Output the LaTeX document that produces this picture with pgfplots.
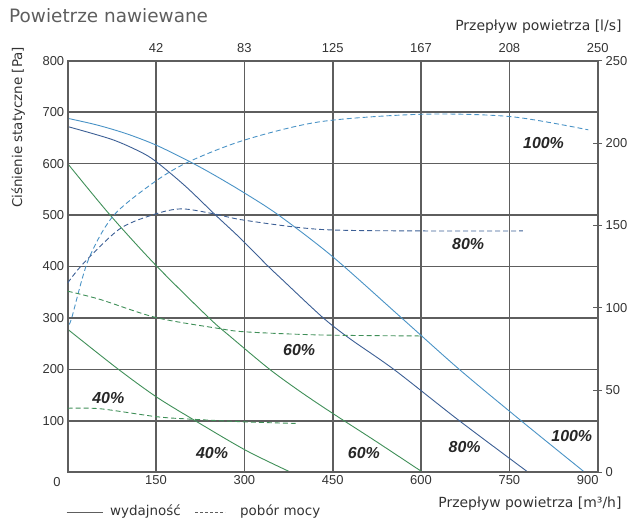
\documentclass[border=0pt]{standalone}
\usepackage{pgfplots}
\pgfplotsset{compat=1.18}
\usepackage{fontspec}
\setmainfont{DejaVu Sans}
\newfontfamily\lib{Liberation Sans}
\definecolor{gridc}{HTML}{5E5E5E}
\definecolor{cA}{HTML}{4A93C6}
\definecolor{cB}{HTML}{3C5F95}
\definecolor{cG}{HTML}{3F8F58}
\definecolor{txt}{HTML}{333333}
\begin{document}
\begin{tikzpicture}
\path[use as bounding box] (-67.7bp,-46.7bp) rectangle (559.3bp,472.3bp);
\begin{axis}[at={(0,0)}, anchor=south west, scale only axis,
  width=530bp, height=411.6bp,
  xmin=0, xmax=900, ymin=0, ymax=800,
  xtick={150,300,...,750}, ytick={100,200,...,800},
  extra x ticks={900}, extra x tick style={xticklabel style={xshift=-10bp}},
  grid=major, grid style={gridc, line width=1.7bp},
  axis line style={gridc, line width=1.7bp},
  major tick length=0pt,
  tick label style={font=\lib\fontsize{13}{13}\selectfont, text=txt},
  /pgf/number format/assume math mode=true,
  every axis plot/.append style={line width=0.9bp, smooth},
]
\addplot[cA] coordinates {(0,688)(50,675)(100,658)(150,636)(207,604)(250,577)(300,543)(358,500)(450,419)(567,300)(665,200)(768,102)(878,0)};
\addplot[cB] coordinates {(0,672)(75,647)(123,623)(150,604)(200,556)(251,500)(293,455)(339,402)(362,377)(433,301)(480,259)(555,199)(663,102)(782,0)};
\addplot[cG] coordinates {(0,600)(72,500)(150,402)(240,300)(276,264)(342,201)(396,156)(452,113)(521,62)(603,0)};
\addplot[cG] coordinates {(0,278)(84,202)(150,147)(214,102)(302,43)(379,0)};
\begin{scope}[font=\lib\bfseries\itshape\fontsize{16}{16}\selectfont, text=black!85]
\node at (axis cs:808,640) {100\%};
\node at (axis cs:680,444) {80\%};
\node at (axis cs:393,238) {60\%};
\node at (axis cs:69,144) {40\%};
\node at (axis cs:245,37) {40\%};
\node at (axis cs:503,38) {60\%};
\node at (axis cs:674,50) {80\%};
\node at (axis cs:856,71) {100\%};
\end{scope}
\end{axis}
\begin{axis}[at={(0,0)}, anchor=south west, scale only axis,
  width=530bp, height=411.6bp,
  xmin=0, xmax=900, ymin=0, ymax=250,
  xtick={150,300,...,900}, xticklabels={42,83,125,167,208,250},
  ytick={0,50,...,250},
  xtick pos=right, xticklabel pos=right,
  ytick pos=right, yticklabel pos=right,
  x tick style={draw=none},
  y tick style={gridc, line width=0.8bp},
  tick align=center, major tick length=9bp,
  axis line style={gridc, line width=1.7bp},
  tick label style={font=\lib\fontsize{13}{13}\selectfont, text=txt},
  /pgf/number format/assume math mode=true,
  every axis plot/.append style={line width=0.9bp, smooth, dash pattern=on 5bp off 3bp},
]
\addplot[cA] coordinates {(2,90)(7,94)(35,129)(78,156)(150,177)(208,189)(302,202)(430,213)(603,217.5)(753,216)(884,208)};
\addplot[cB] coordinates {(0,115)(27,127)(89,148)(150,157)(194,160)(248,157)(302,153)(430,147.5)(603,146.6)(773,146.6)};
\addplot[cG] coordinates {(0,110)(55,105)(150,94)(254,87.5)(302,85.3)(430,83.4)(603,82.8)};
\addplot[cG] coordinates {(0,38.9)(55,38.6)(150,33.8)(203,32.4)(302,30.6)(387,29.7)};
\end{axis}
\node[anchor=west, text=gridc, font=\fontsize{18.5}{18.5}\selectfont] at (-62bp,456.3bp) {Powietrze nawiewane};
\node[anchor=east, text=txt, font=\fontsize{14}{14}\selectfont] at (557.3bp,445.6bp) {Przepływ powietrza [l/s]};
\node[anchor=east, text=txt, font=\fontsize{14}{14}\selectfont] at (557.3bp,-31bp) {Przepływ powietrza [m³/h]};
\node[rotate=90, text=txt, font=\fontsize{13.5}{13.5}\selectfont] at (-49.5bp,345bp) {Ciśnienie statyczne [Pa]};
\node[text=txt, font=\lib\fontsize{13}{13}\selectfont] at (-10.7bp,-9.4bp) {0};
\draw[gridc, line width=0.8bp] (-1bp,-40bp) -- (35.6bp,-40bp);
\node[anchor=west, text=txt, font=\fontsize{13.5}{13.5}\selectfont, inner sep=0pt] at (42.3bp,-39.5bp) {wydajność};
\draw[gridc, line width=0.8bp, dash pattern=on 3bp off 2bp] (127.3bp,-40bp) -- (157.3bp,-40bp);
\node[anchor=west, text=txt, font=\fontsize{13.5}{13.5}\selectfont, inner sep=0pt] at (172.3bp,-39.5bp) {pobór mocy};
\end{tikzpicture}
\end{document}
